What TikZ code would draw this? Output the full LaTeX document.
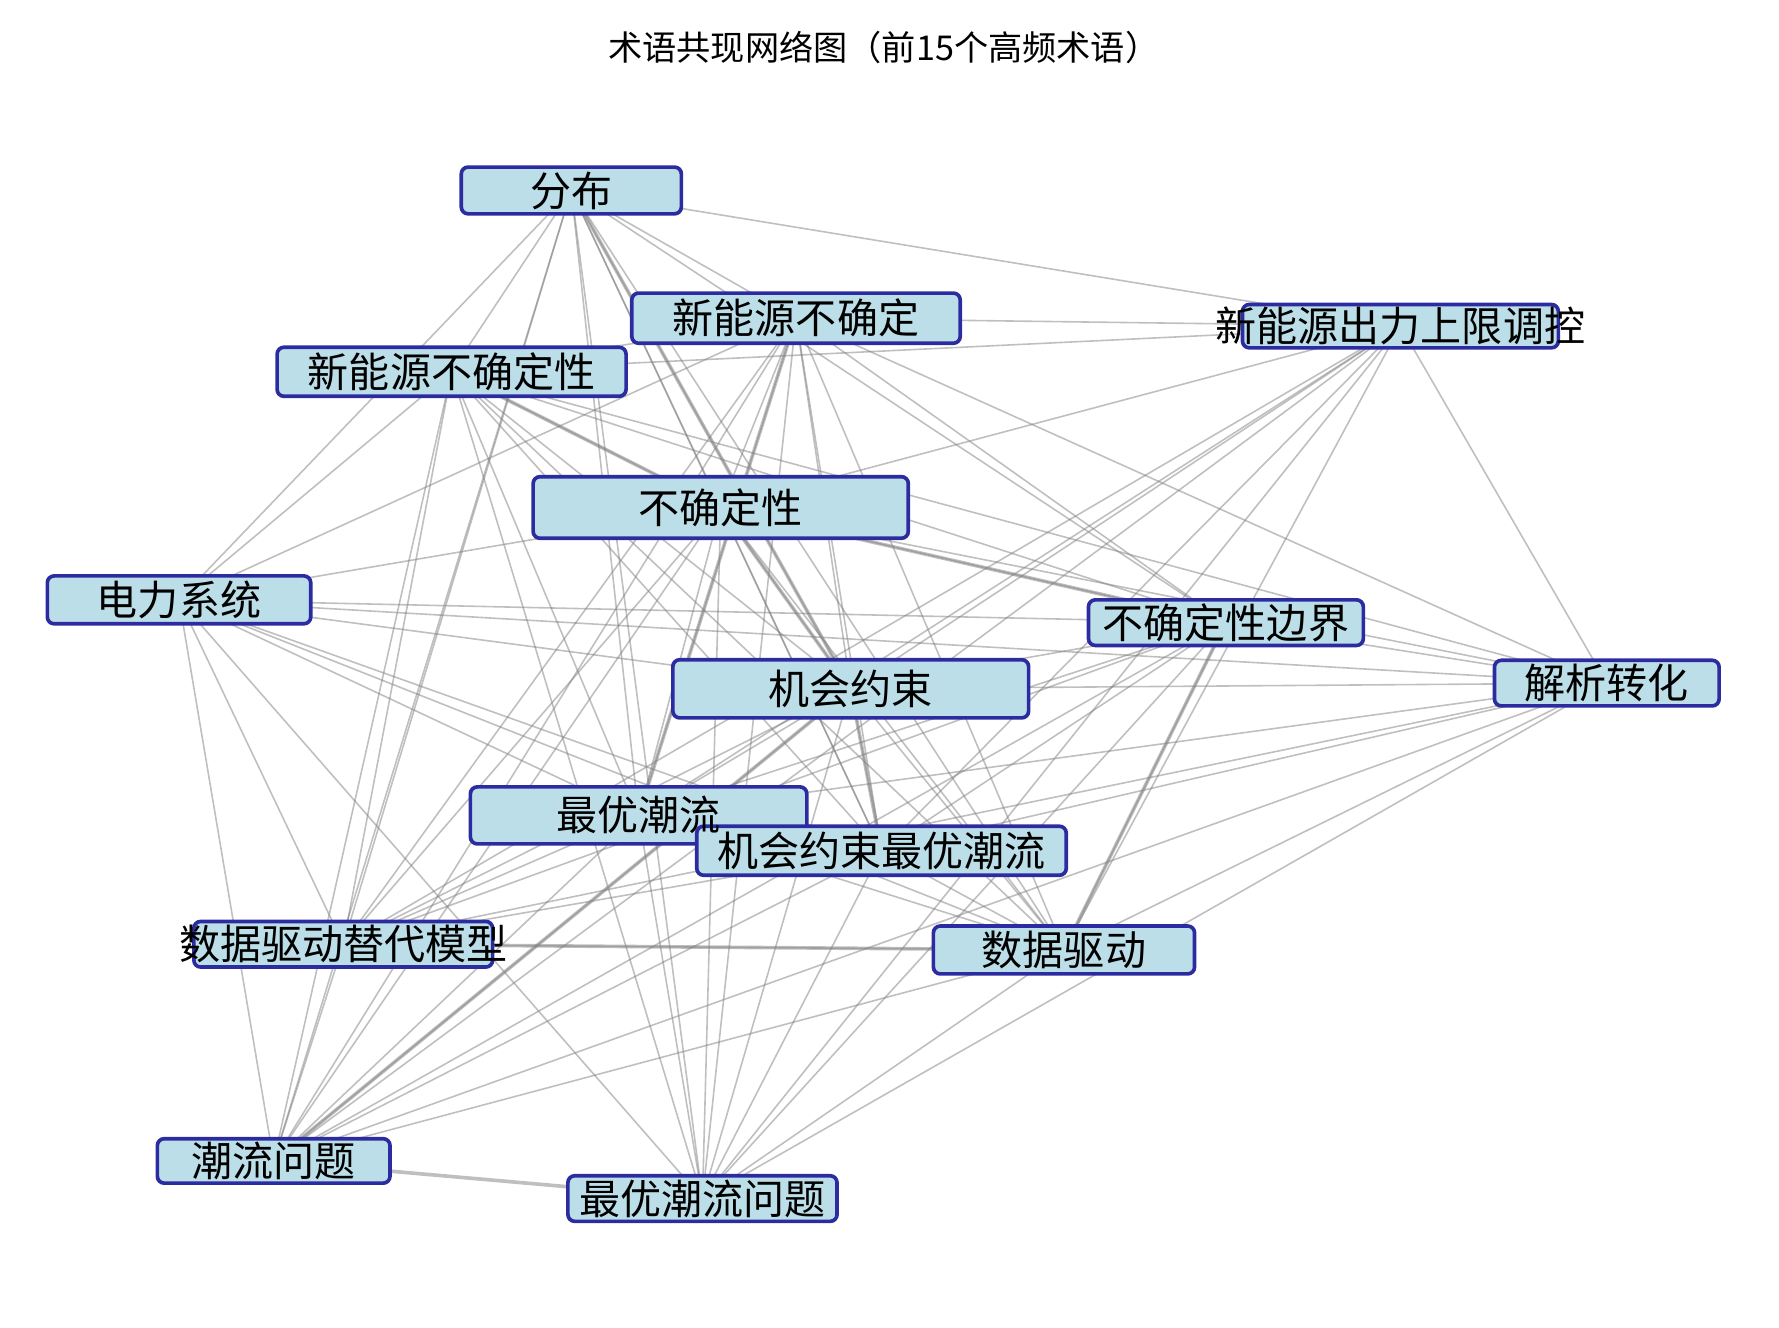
\documentclass[tikz,border=0pt]{standalone}
\usepackage{fontspec}
\setmainfont{Noto Sans CJK SC}
\usetikzlibrary{positioning}
\definecolor{boxfill}{RGB}{187,222,232}
\definecolor{boxline}{RGB}{44,44,160}
\tikzset{
  termbox/.style={draw=boxline, fill=boxfill, line width=1.6pt, rounded corners=3pt, inner sep=0pt},
  termtext/.style={font=\fontsize{18}{20}\selectfont, inner sep=0pt},
  cooc/.style={draw=gray, opacity=0.5, line width=0.7pt},
  strong/.style={draw=gray, opacity=0.5, line width=1.6pt}
}
\begin{document}
\begin{tikzpicture}[x=0.5pt, y=-0.5pt]
\useasboundingbox (0,0) rectangle (1560,1164);
\node[font=\fontsize{15}{17}\selectfont] (title) at (775,42) {术语共现网络图（前15个高频术语）};
% centres of the terms
\coordinate (fb) at (501,167);
\coordinate (xnb) at (698,279);
\coordinate (xsc) at (1228,286);
\coordinate (xnx) at (396,326);
\coordinate (bqd) at (632,445);
\coordinate (dl) at (157,526);
\coordinate (bj) at (1075,546);
\coordinate (jx) at (1409,599);
\coordinate (jh) at (746,604);
\coordinate (zy) at (560,715);
\coordinate (jz) at (773,746);
\coordinate (sjt) at (301,828);
\coordinate (sj) at (933,833);
\coordinate (cl) at (240,1018);
\coordinate (zw) at (616,1051);
% co-occurrence links
\foreach \a/\rest in {fb/{xnb,xsc,xnx,bqd,dl,bj,jh,zy,jz,sjt,sj,cl,zw},
  xnb/{xsc,xnx,bqd,dl,bj,jx,jh,zy,jz,sjt,sj,cl,zw},
  xsc/{xnx,bqd,jx,jh,zy,jz,sjt,sj,cl,zw},
  xnx/{bqd,dl,bj,jx,jh,zy,jz,sjt,sj,cl,zw},
  bqd/{dl,bj,jx,jh,zy,jz,sjt,sj,cl,zw},
  dl/{bj,jx,jh,zy,jz,sjt,sj,cl,zw},
  bj/{jx,jh,zy,jz,sjt,sj,cl,zw},
  jx/{jh,zy,jz,sjt,sj,cl,zw},
  jh/{zy,jz,sjt,sj,cl,zw},
  zy/{jz,sjt,sj,cl,zw},
  jz/{sjt,sj,cl,zw},
  sjt/{sj,cl},
  sj/{cl,zw}} {
  \foreach \b in \rest { \draw[cooc] (\a) -- (\b); }
}
\draw[strong] (xnx) -- (bqd);
\draw[strong] (bqd) -- (bj);
\draw[strong] (fb) -- (jh);
\draw[strong] (bqd) -- (jh);
\draw[strong] (jh) -- (cl);
\draw[strong] (cl) -- (zw);
\draw[strong] (xnb) -- (zy);
\draw[strong] (jh) -- (jz);
\draw[strong] (sjt) -- (sj);
\draw[strong] (bj) -- (sj);
% boxes
\node[termbox, minimum width=96.5pt, minimum height=20.5pt] (fbbox) at (fb) {};
\node[termbox, minimum width=144pt, minimum height=22pt] (xnbbox) at (xnb) {};
\node[termbox, minimum width=138.5pt, minimum height=19pt] (xscbox) at (xsc) {};
\node[termbox, minimum width=153pt, minimum height=21.5pt] (xnxbox) at (xnx) {};
\node[termbox, minimum width=164.5pt, minimum height=27pt] (bqdbox) at (bqd) {};
\node[termbox, minimum width=115.5pt, minimum height=21pt] (dlbox) at (dl) {};
\node[termbox, minimum width=120.5pt, minimum height=20pt] (bjbox) at (bj) {};
\node[termbox, minimum width=98.5pt, minimum height=20pt] (jxbox) at (jx) {};
\node[termbox, minimum width=156pt, minimum height=25.5pt] (jhbox) at (jh) {};
\node[termbox, minimum width=147.5pt, minimum height=25pt] (zybox) at (zy) {};
\node[termbox, minimum width=162pt, minimum height=21.5pt] (jzbox) at (jz) {};
\node[termbox, minimum width=131pt, minimum height=20pt] (sjtbox) at (sjt) {};
\node[termbox, minimum width=114.5pt, minimum height=21pt] (sjbox) at (sj) {};
\node[termbox, minimum width=102pt, minimum height=19.5pt] (clbox) at (cl) {};
\node[termbox, minimum width=118pt, minimum height=20pt] (zwbox) at (zw) {};
% labels
\node[termtext] at (fb) {分布};
\node[termtext] at (xnb) {新能源不确定};
\node[termtext] at (xsc) {新能源出力上限调控};
\node[termtext] at (xnx) {新能源不确定性};
\node[termtext] at (bqd) {不确定性};
\node[termtext] at (dl) {电力系统};
\node[termtext] at (bj) {不确定性边界};
\node[termtext] at (jx) {解析转化};
\node[termtext] at (jh) {机会约束};
\node[termtext] at (zy) {最优潮流};
\node[termtext] at (jz) {机会约束最优潮流};
\node[termtext] at (sjt) {数据驱动替代模型};
\node[termtext] at (sj) {数据驱动};
\node[termtext] at (cl) {潮流问题};
\node[termtext] at (zw) {最优潮流问题};
\end{tikzpicture}
\end{document}
